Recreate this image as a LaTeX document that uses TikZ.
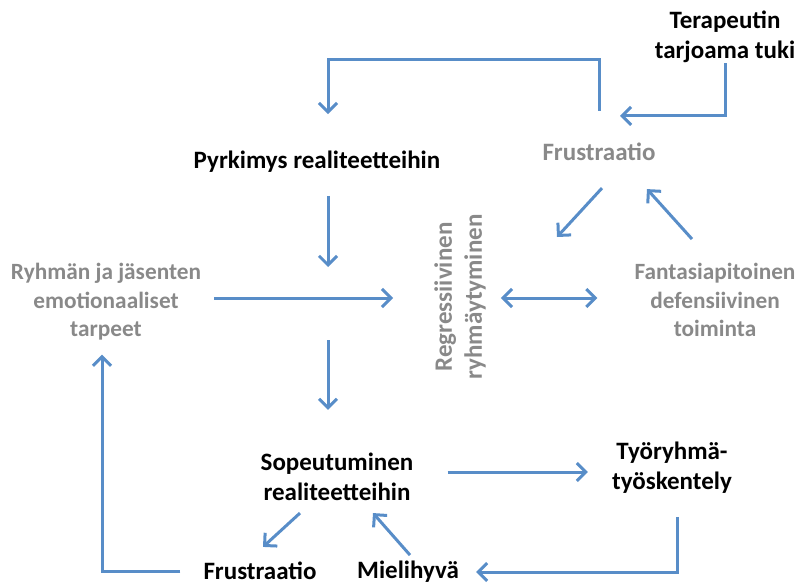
\documentclass[tikz,border=0pt]{standalone}
\usepackage{fontspec}
\setmainfont{Carlito}
\usetikzlibrary{arrows.meta}
\definecolor{flowblue}{RGB}{88,141,200}
\definecolor{softgray}{RGB}{137,137,137}

\begin{document}
\begin{tikzpicture}[x=1pt,y=-1pt,
    barb/.tip={Straight Barb[length=9pt,width=18pt]},
    darktxt/.style={font=\fontsize{25}{30}\selectfont\bfseries,align=center,inner sep=0pt},
    graytxt/.style={darktxt,text=softgray},
    smallgray/.style={graytxt,font=\fontsize{23.3}{28.5}\selectfont\bfseries},
    arr/.style={draw=flowblue,line width=3pt,-barb}]
  \useasboundingbox (0,0) rectangle (804,586);

  % Texts
  \node[darktxt] (tuki) at (725,37) {Terapeutin\\tarjoama tuki};
  \node[graytxt] (frusTop) at (599,152) {Frustraatio};
  \node[darktxt] (pyrk) at (317,162) {Pyrkimys realiteetteihin};
  \node[smallgray] (ryhma) at (106,302) {Ryhmän ja jäsenten\\emotionaaliset\\tarpeet};
  \node[graytxt,rotate=90] (regr) at (460,297) {Regressiivinen\\ryhmäytyminen};
  \node[smallgray] (fanta) at (715,300) {Fantasiapitoinen\\defensiivinen\\toiminta};
  \node[darktxt] (sopeu) at (337,477) {Sopeutuminen\\realiteetteihin};
  \node[darktxt] (tyo) at (672,468) {Työryhmä-\\työskentely};
  \node[darktxt] (frusBot) at (260,571) {Frustraatio};
  \node[darktxt] (miel) at (408,572) {Mielihyvä};

  % Helpers
  \coordinate (hub) at (328,298);
  \coordinate (topline) at (0,60);

  % Top loop
  \draw[arr] (tuki.south) |- ([shift={(21,-27)}]frusTop.north);
  \draw[arr,shorten <=32pt,shorten >=37pt] (frusTop.north) |- (topline -| hub) -- (hub |- pyrk.north);

  % Middle cross
  \draw[arr,shorten <=23pt,shorten >=31pt] (pyrk.south -| hub) -- (hub);
  \draw[arr,shorten <=42pt,shorten >=43pt] (hub) -- (hub |- sopeu.north);
  \draw[arr,shorten <=13pt,shorten >=41pt] (ryhma.east |- hub) -- (regr.north |- hub);
  \draw[arr,barb-barb,shorten <=15pt,shorten >=37pt] (regr.south |- hub) -- (fanta.west |- hub);

  % Fantasy triangle
  \draw[arr] ([shift={(3,27)}]frusTop.south) -- ([shift={(97,-60)}]regr.center);
  \draw[arr] ([shift={(-23,-24)}]fanta.north) -- ([shift={(48,28)}]frusTop.south);

  % Bottom loop
  \draw[arr] ([shift={(34,-5)}]sopeu.east) -- ([shift={(-24,4)}]tyo.west);
  \draw[arr,shorten >=17pt] ([shift={(5,23)}]tyo.south) |- (miel.east);
  \draw[arr] ([shift={(-37,12)}]sopeu.south) -- ([shift={(3,-15)}]frusBot.north);
  \draw[arr] ([shift={(2,-6)}]miel.north) -- ([shift={(36,12)}]sopeu.south);
  \draw[arr,shorten <=23pt,shorten >=14pt] (frusBot.west) -| ([shift={(-4,0)}]ryhma.south);
\end{tikzpicture}
\end{document}
